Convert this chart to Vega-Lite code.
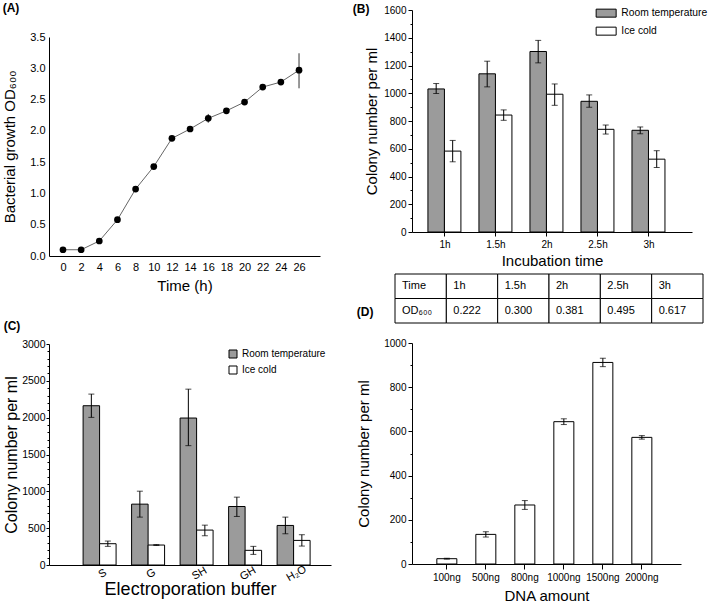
{
  "$schema": "https://vega.github.io/schema/vega-lite/v6.json",
  "padding": {"left": 2, "top": 2, "right": 0, "bottom": 0},
  "background": "white",
  "config": {
    "font": "Liberation Sans",
    "view": {"stroke": null},
    "axis": {"labelColor": "#000", "titleColor": "#000", "domainColor": "#000", "tickColor": "#000", "titleFontWeight": "normal", "grid": false, "minExtent": 0, "labelFont": "Liberation Sans", "titleFont": "Liberation Sans"},
    "legend": {"labelColor": "#000", "labelFont": "Liberation Sans"},
    "title": {"color": "#000", "font": "Liberation Sans"},
    "text": {"font": "Liberation Sans", "color": "#000"}
  },
  "resolve": {"scale": {"fill": "independent"}, "legend": {"fill": "independent"}},
  "columns": 2,
  "align": "none",
  "spacing": 21,
  "concat": [
    {
      "columns": 1,
      "align": "none",
      "spacing": 27,
      "resolve": {"scale": {"fill": "independent"}, "legend": {"fill": "independent"}},
      "concat": [
        {
          "columns": 1,
          "align": "none",
          "spacing": -9,
          "concat": [
            {"width": 1, "height": 1, "data": {"values": []}, "mark": "point"},
            {
              "width": 271, "height": 219,
              "title": {"text": "(A)", "anchor": "start", "frame": "bounds", "fontSize": 12, "fontWeight": "bold", "offset": 16},
              "data": {"values": [
                {"t": 0, "od": 0.10, "lo": 0.09, "hi": 0.11},
                {"t": 2, "od": 0.10, "lo": 0.09, "hi": 0.11},
                {"t": 4, "od": 0.24, "lo": 0.23, "hi": 0.25},
                {"t": 6, "od": 0.58, "lo": 0.57, "hi": 0.59},
                {"t": 8, "od": 1.07, "lo": 1.06, "hi": 1.08},
                {"t": 10, "od": 1.43, "lo": 1.42, "hi": 1.44},
                {"t": 12, "od": 1.88, "lo": 1.87, "hi": 1.89},
                {"t": 14, "od": 2.03, "lo": 2.02, "hi": 2.04},
                {"t": 16, "od": 2.20, "lo": 2.13, "hi": 2.27},
                {"t": 18, "od": 2.32, "lo": 2.31, "hi": 2.33},
                {"t": 20, "od": 2.46, "lo": 2.45, "hi": 2.47},
                {"t": 22, "od": 2.70, "lo": 2.66, "hi": 2.74},
                {"t": 24, "od": 2.78, "lo": 2.76, "hi": 2.80},
                {"t": 26, "od": 2.97, "lo": 2.68, "hi": 3.24}
              ]},
              "encoding": {
                "x": {"field": "t", "type": "quantitative", "scale": {"domain": [-1.54, 28.31], "nice": false, "zero": false},
                  "axis": {"values": [0,2,4,6,8,10,12,14,16,18,20,22,24,26], "ticks": false, "labelFontSize": 11, "labelPadding": 5, "title": "Time (h)", "titleFontSize": 15, "titlePadding": 6}},
                "y": {"field": "od", "type": "quantitative", "scale": {"domain": [0, 3.5], "nice": false},
                  "axis": {"values": [0,0.5,1,1.5,2,2.5,3,3.5], "format": ".1f", "ticks": false, "labelFontSize": 11, "labelPadding": 4, "title": "Bacterial growth OD₆₀₀", "titleFontSize": 15, "titlePadding": 12}}
              },
              "layer": [
                {"mark": {"type": "line", "color": "#666", "strokeWidth": 1}},
                {"mark": {"type": "rule", "color": "#333", "strokeWidth": 1}, "encoding": {"y": {"field": "lo", "type": "quantitative"}, "y2": {"field": "hi"}}},
                {"mark": {"type": "point", "filled": true, "color": "#000", "size": 45, "opacity": 1}}
              ]
            }
          ]
        },
        {
          "width": 282, "height": 221,
          "title": {"text": "(C)", "anchor": "start", "frame": "bounds", "fontSize": 12, "fontWeight": "bold", "offset": 6},
          "data": {"values": [
            {"buf": "S", "cond": "Room temperature", "value": 2162, "lo": 2004, "hi": 2320},
            {"buf": "S", "cond": "Ice cold", "value": 289, "lo": 253, "hi": 325},
            {"buf": "G", "cond": "Room temperature", "value": 826, "lo": 650, "hi": 1002},
            {"buf": "G", "cond": "Ice cold", "value": 271, "lo": 265, "hi": 277},
            {"buf": "SH", "cond": "Room temperature", "value": 1995, "lo": 1620, "hi": 2387},
            {"buf": "SH", "cond": "Ice cold", "value": 474, "lo": 397, "hi": 541},
            {"buf": "GH", "cond": "Room temperature", "value": 794, "lo": 659, "hi": 921},
            {"buf": "GH", "cond": "Ice cold", "value": 199, "lo": 144, "hi": 253},
            {"buf": "H₂O", "cond": "Room temperature", "value": 537, "lo": 424, "hi": 650},
            {"buf": "H₂O", "cond": "Ice cold", "value": 334, "lo": 257, "hi": 411}
          ]},
          "encoding": {
            "x": {"field": "buf", "type": "nominal", "sort": ["S","G","SH","GH","H₂O"], "scale": {"paddingInner": 0.32, "paddingOuter": 0.567, "align": 0.62},
              "axis": {"labelAngle": -30, "labelAlign": "center", "labelBaseline": "top", "ticks": false, "labelFontSize": 11, "labelPadding": 3, "title": "Electroporation buffer", "titleFontSize": 18, "titlePadding": -2}},
            "xOffset": {"field": "cond", "type": "nominal", "sort": ["Room temperature","Ice cold"], "scale": {"paddingInner": 0, "paddingOuter": 0}},
            "y": {"field": "value", "type": "quantitative", "scale": {"domain": [0, 3000], "nice": false},
              "axis": {"values": [0,500,1000,1500,2000,2500,3000], "format": "d", "labelFontSize": 10.5, "labelPadding": 1, "tickSize": 3, "title": "Colony number per ml", "titleFontSize": 16, "titlePadding": 2}}
          },
          "layer": [
            {"mark": {"type": "bar", "stroke": "#000", "strokeWidth": 1},
              "encoding": {"fill": {"field": "cond", "type": "nominal", "scale": {"domain": ["Room temperature","Ice cold"], "range": ["#9b9b9b","#ffffff"]},
                "legend": {"title": null, "orient": "top-right", "offset": 5, "padding": 0, "symbolType": "square", "symbolSize": 64, "symbolStrokeColor": "#000", "symbolStrokeWidth": 1, "labelFontSize": 10, "labelOffset": 4, "rowPadding": 4}}}},
            {"mark": {"type": "rule", "color": "#000", "strokeWidth": 1},
              "encoding": {"y": {"field": "lo", "type": "quantitative", "axis": {"orient": "left", "values": [100,200,300,400,600,700,800,900,1100,1200,1300,1400,1600,1700,1800,1900,2100,2200,2300,2400,2600,2700,2800,2900], "labels": false, "domain": false, "tickSize": 2, "title": null}}, "y2": {"field": "hi"}}},
            {"mark": {"type": "tick", "color": "#000", "size": 6, "thickness": 1}, "encoding": {"y": {"field": "lo", "type": "quantitative", "axis": null}}},
            {"mark": {"type": "tick", "color": "#000", "size": 6, "thickness": 1}, "encoding": {"y": {"field": "hi", "type": "quantitative", "axis": null}}}
          ],
          "resolve": {"axis": {"y": "independent"}}
        }
      ]
    },
    {
      "columns": 1,
      "align": "none",
      "spacing": -18,
      "resolve": {"scale": {"fill": "independent"}, "legend": {"fill": "independent"}},
      "concat": [
        {
          "columns": 1,
          "align": "none",
          "spacing": 5,
          "resolve": {"scale": {"fill": "independent"}, "legend": {"fill": "independent"}},
          "concat": [
            {
              "width": 280, "height": 222,
              "title": {"text": "(B)", "anchor": "start", "frame": "bounds", "fontSize": 12, "fontWeight": "bold", "offset": -11, "dx": -12},
              "data": {"values": [
                {"time": "1h", "cond": "Room temperature", "value": 1031, "lo": 998, "hi": 1070},
                {"time": "1h", "cond": "Ice cold", "value": 583, "lo": 506, "hi": 660},
                {"time": "1.5h", "cond": "Room temperature", "value": 1140, "lo": 1046, "hi": 1231},
                {"time": "1.5h", "cond": "Ice cold", "value": 843, "lo": 805, "hi": 880},
                {"time": "2h", "cond": "Room temperature", "value": 1301, "lo": 1219, "hi": 1381},
                {"time": "2h", "cond": "Ice cold", "value": 993, "lo": 913, "hi": 1067},
                {"time": "2.5h", "cond": "Room temperature", "value": 942, "lo": 899, "hi": 988},
                {"time": "2.5h", "cond": "Ice cold", "value": 740, "lo": 706, "hi": 771},
                {"time": "3h", "cond": "Room temperature", "value": 733, "lo": 708, "hi": 757},
                {"time": "3h", "cond": "Ice cold", "value": 525, "lo": 465, "hi": 586}
              ]},
              "encoding": {
                "x": {"field": "time", "type": "nominal", "sort": ["1h","1.5h","2h","2.5h","3h"], "scale": {"paddingInner": 0.333, "paddingOuter": 0.411, "align": 0.38},
                  "axis": {"labelAngle": 0, "labelFontSize": 10, "labelPadding": 3, "tickSize": 4, "title": "Incubation time", "titleFontSize": 15, "titlePadding": 4}},
                "xOffset": {"field": "cond", "type": "nominal", "sort": ["Room temperature","Ice cold"], "scale": {"paddingInner": 0, "paddingOuter": 0}},
                "y": {"field": "value", "type": "quantitative", "scale": {"domain": [0, 1600], "nice": false},
                  "axis": {"values": [0,200,400,600,800,1000,1200,1400,1600], "format": "d", "labelFontSize": 10, "labelPadding": 2, "tickSize": 4, "title": "Colony number per ml", "titleFontSize": 15, "titlePadding": 4}}
              },
              "layer": [
                {"mark": {"type": "bar", "stroke": "#000", "strokeWidth": 1},
                  "encoding": {"fill": {"field": "cond", "type": "nominal", "scale": {"domain": ["Room temperature","Ice cold"], "range": ["#9b9b9b","#ffffff"]},
                    "legend": {"title": null, "orient": "none", "legendX": 189, "legendY": -2, "padding": 0, "symbolType": "M-2.5,-1L2.5,-1L2.5,1L-2.5,1Z", "symbolSize": 64, "symbolStrokeColor": "#000", "symbolStrokeWidth": 1, "labelFontSize": 10.3, "labelOffset": 10, "rowPadding": 5}}}},
                {"mark": {"type": "rule", "color": "#000", "strokeWidth": 1},
                  "encoding": {"y": {"field": "lo", "type": "quantitative", "axis": {"orient": "left", "values": [100,300,500,700,900,1100,1300,1500], "labels": false, "domain": false, "tickSize": 2, "title": null}}, "y2": {"field": "hi"}}},
                {"mark": {"type": "tick", "color": "#000", "size": 6, "thickness": 1}, "encoding": {"y": {"field": "lo", "type": "quantitative", "axis": null}}},
                {"mark": {"type": "tick", "color": "#000", "size": 6, "thickness": 1}, "encoding": {"y": {"field": "hi", "type": "quantitative", "axis": null}}}
              ],
              "resolve": {"axis": {"y": "independent"}}
            },
            {
              "width": 291, "height": 49,
              "data": {"values": [
                {"r": "Time", "c": "Time", "label": "Time"},
                {"r": "Time", "c": "1h", "label": "1h"},
                {"r": "Time", "c": "1.5h", "label": "1.5h"},
                {"r": "Time", "c": "2h", "label": "2h"},
                {"r": "Time", "c": "2.5h", "label": "2.5h"},
                {"r": "Time", "c": "3h", "label": "3h"},
                {"r": "OD", "c": "Time", "label": "OD₆₀₀"},
                {"r": "OD", "c": "1h", "label": "0.222"},
                {"r": "OD", "c": "1.5h", "label": "0.300"},
                {"r": "OD", "c": "2h", "label": "0.381"},
                {"r": "OD", "c": "2.5h", "label": "0.495"},
                {"r": "OD", "c": "3h", "label": "0.617"}
              ]},
              "encoding": {
                "x": {"field": "c", "type": "nominal", "sort": ["Time","1h","1.5h","2h","2.5h","3h"], "scale": {"paddingInner": 0, "paddingOuter": 0, "range": [-17, 291]}, "axis": null},
                "y": {"field": "r", "type": "nominal", "sort": ["Time","OD"], "scale": {"paddingInner": 0, "paddingOuter": 0}, "axis": null}
              },
              "layer": [
                {"mark": {"type": "rect", "fill": "#fff", "stroke": "#000", "strokeWidth": 1}},
                {"mark": {"type": "text", "align": "left", "dx": 7, "fontSize": 11},
                  "encoding": {"x": {"field": "c", "type": "nominal", "sort": ["Time","1h","1.5h","2h","2.5h","3h"], "bandPosition": 0}, "text": {"field": "label"}}}
              ]
            }
          ]
        },
        {
          "width": 269, "height": 221,
          "title": {"text": "(D)", "anchor": "start", "frame": "bounds", "fontSize": 12, "fontWeight": "bold", "offset": 19},
          "data": {"values": [
            {"dna": "100ng", "value": 24, "lo": 22, "hi": 26},
            {"dna": "500ng", "value": 134, "lo": 122, "hi": 146},
            {"dna": "800ng", "value": 267, "lo": 247, "hi": 287},
            {"dna": "1000ng", "value": 644, "lo": 631, "hi": 657},
            {"dna": "1500ng", "value": 912, "lo": 893, "hi": 931},
            {"dna": "2000ng", "value": 573, "lo": 565, "hi": 581}
          ]},
          "encoding": {
            "x": {"field": "dna", "type": "nominal", "sort": ["100ng","500ng","800ng","1000ng","1500ng","2000ng"], "scale": {"paddingInner": 0.487, "paddingOuter": 0.692, "align": 0.46},
              "axis": {"labelAngle": 0, "labelFontSize": 10, "labelPadding": 3, "tickSize": 5, "title": "DNA amount", "titleFontSize": 15, "titlePadding": 6}},
            "y": {"field": "value", "type": "quantitative", "scale": {"domain": [0, 1000], "nice": false},
              "axis": {"values": [0,200,400,600,800,1000], "format": "d", "labelFontSize": 10, "labelPadding": 2, "tickSize": 4, "title": "Colony number per ml", "titleFontSize": 15, "titlePadding": 12}}
          },
          "layer": [
            {"mark": {"type": "bar", "fill": "#fff", "stroke": "#000", "strokeWidth": 1}},
            {"mark": {"type": "rule", "color": "#000", "strokeWidth": 1},
              "encoding": {"y": {"field": "lo", "type": "quantitative", "axis": {"orient": "left", "values": [100,300,500,700,900], "labels": false, "domain": false, "tickSize": 2, "title": null}}, "y2": {"field": "hi"}}},
            {"mark": {"type": "tick", "color": "#000", "size": 6, "thickness": 1}, "encoding": {"y": {"field": "lo", "type": "quantitative", "axis": null}}},
            {"mark": {"type": "tick", "color": "#000", "size": 6, "thickness": 1}, "encoding": {"y": {"field": "hi", "type": "quantitative", "axis": null}}}
          ],
          "resolve": {"axis": {"y": "independent"}}
        }
      ]
    }
  ]
}
